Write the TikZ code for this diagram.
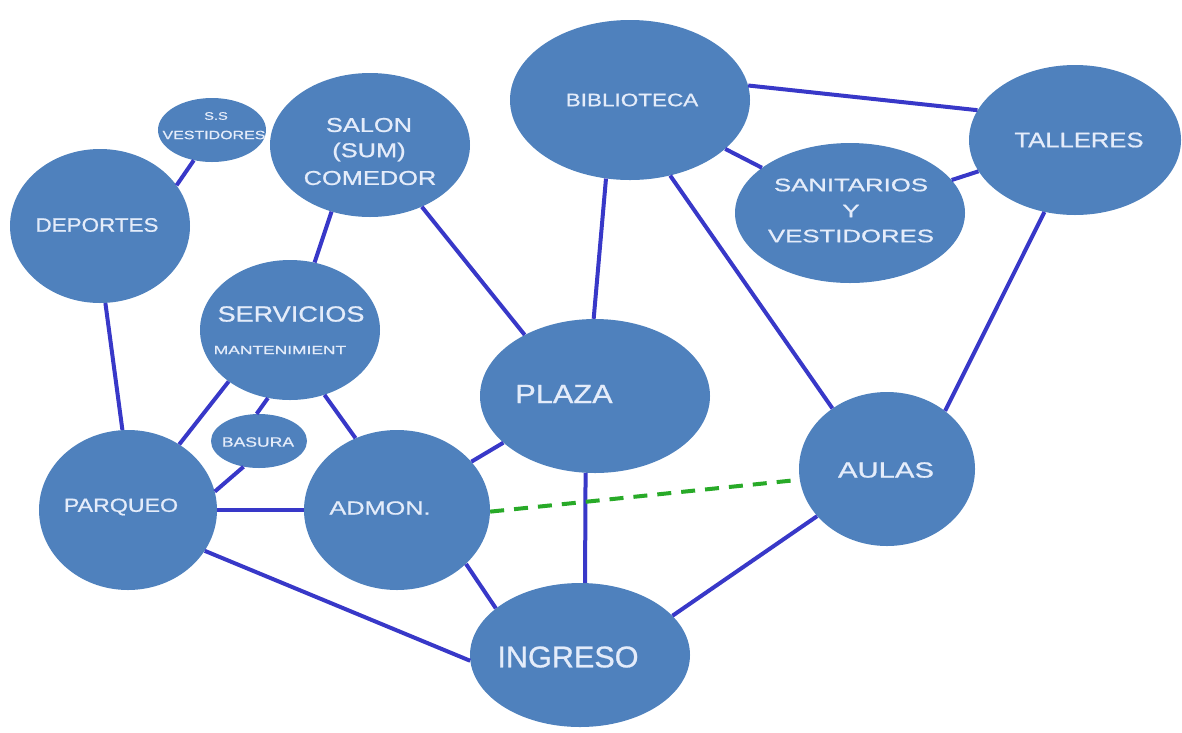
\documentclass[tikz,border=0pt]{standalone}
\usepackage{fontspec}
\setmainfont{Liberation Sans}[BoldFont=Liberation Sans, BoldFeatures={FakeBold=0.8}]
\usetikzlibrary{shapes.geometric}
\definecolor{fillb}{RGB}{79,129,189}
\definecolor{lineb}{RGB}{56,56,200}
\definecolor{dashg}{RGB}{40,170,40}
\definecolor{txtc}{RGB}{228,236,250}
\tikzset{
  bub/.style={ellipse, fill=fillb, draw=none, inner sep=0pt},
  txt/.style={text=txtc, align=center, inner sep=0pt},
  link/.style={draw=lineb, line width=4pt},
  dlink/.style={draw=dashg, line width=4pt, dash pattern=on 14pt off 10pt}
}
\newcommand{\fs}[1]{\fontsize{#1}{#1}\selectfont\bfseries}
\newcommand{\wx}[2]{\scalebox{#1}[1]{#2}}
\begin{document}
\begin{tikzpicture}[x=1pt,y=-1pt]
\useasboundingbox (0,0) rectangle (1182,732);
% bubbles
\node[bub, minimum width=240pt, minimum height=160pt] (bib) at (630,100) {};
\node[bub, minimum width=212pt, minimum height=150pt] (tal) at (1075,140) {};
\node[bub, minimum width=230pt, minimum height=140pt] (san) at (850,213) {};
\node[bub, minimum width=200pt, minimum height=144pt] (sal) at (370,145) {};
\node[bub, minimum width=108pt, minimum height=64pt] (ss) at (212,130) {};
\node[bub, minimum width=180pt, minimum height=154pt] (dep) at (100,226) {};
\node[bub, minimum width=180pt, minimum height=140pt] (ser) at (290,330) {};
\node[bub, minimum width=96pt, minimum height=54pt] (bas) at (259,441) {};
\node[bub, minimum width=178pt, minimum height=160pt] (par) at (128,510) {};
\node[bub, minimum width=186pt, minimum height=160pt] (adm) at (397,510) {};
\node[bub, minimum width=230pt, minimum height=154pt] (pla) at (595,396) {};
\node[bub, minimum width=176pt, minimum height=154pt] (aul) at (887,469) {};
\node[bub, minimum width=220pt, minimum height=144pt] (ing) at (580,655) {};
% texts
\node[txt, font=\fs{18}] (tbib) at (632,100) {\wx{1.25}{BIBLIOTECA}};
\node[txt, font=\fs{21}] (ttal) at (1079,140) {\wx{1.22}{TALLERES}};
\node[txt, font=\fs{18}] (tsan1) at (851,185) {\wx{1.43}{SANITARIOS}};
\node[txt, font=\fs{18}] (tsan2) at (851,211) {\wx{1.43}{Y}};
\node[txt, font=\fs{18}] (tsan3) at (851,236) {\wx{1.43}{VESTIDORES}};
\node[txt, font=\fs{20}] (tsal1) at (369,125) {\wx{1.27}{SALON}};
\node[txt, font=\fs{20}] (tsal2) at (369,152) {\wx{1.27}{(SUM)}};
\node[txt, font=\fs{20}] (tsal3) at (370,178) {\wx{1.27}{COMEDOR}};
\node[txt, font=\fs{11}] (tss1) at (216,116) {\wx{1.33}{S.S}};
\node[txt, font=\fs{12}] (tss2) at (214,135) {\wx{1.33}{VESTIDORES}};
\node[txt, font=\fs{19.5}] (tdep) at (97,225) {\wx{1.15}{DEPORTES}};
\node[txt, font=\fs{22}] (tser) at (291,314) {\wx{1.23}{SERVICIOS}};
\node[txt, font=\fs{12}] (tman) at (280,350) {\wx{1.45}{MANTENIMIENT}};
\node[txt, font=\fs{13.5}] (tbas) at (258,442) {\wx{1.3}{BASURA}};
\node[txt, font=\fs{19}] (tpar) at (121,507) {\wx{1.22}{PARQUEO}};
\node[txt, font=\fs{19}] (tadm) at (380,508) {\wx{1.33}{ADMON.}};
\node[txt, font=\fs{26.5}] (tpla) at (564,394) {\wx{1.16}{PLAZA}};
\node[txt, font=\fs{22}] (taul) at (886,470) {\wx{1.33}{AULAS}};
\node[txt, font=\fs{30}] (ting) at (568,657) {\wx{1.02}{INGRESO}};
% links
\draw[link] (bib.7) -- (tal.163);
\draw[link] (bib) -- (san);
\draw[link] (san) -- (tal);
\draw[link] (bib.-107) -- (pla.91);
\draw[link] (bib.-62) -- (aul.132);
\draw[link] (tal.-113) -- (aul.45);
\draw[link] (sal.-50) -- (pla.139);
\draw[link] (sal.-120) -- (ser.70);
\draw[link] (ss.-121) -- (dep.28);
\draw[link] (dep.-86) -- (par.94);
\draw[link] (ser.-140) -- (par.52);
\draw[link] (ser.-108) -- (bas.95);
\draw[link] (ser.-62) -- (adm.120);
\draw[link] (bas.-121) -- (par.12);
\draw[link] (par.0) -- (adm.180);
\draw[link] (par.-28) -- (ing.183);
\draw[link] (adm.33) -- (pla.207);
\draw[link] (adm.-38) -- (ing.151);
\draw[link] (pla.-97) -- (ing.86);
\draw[link] (aul.214) -- (ing.23);
\draw[dlink] (adm.-1) -- (aul.187);
\end{tikzpicture}
\end{document}
